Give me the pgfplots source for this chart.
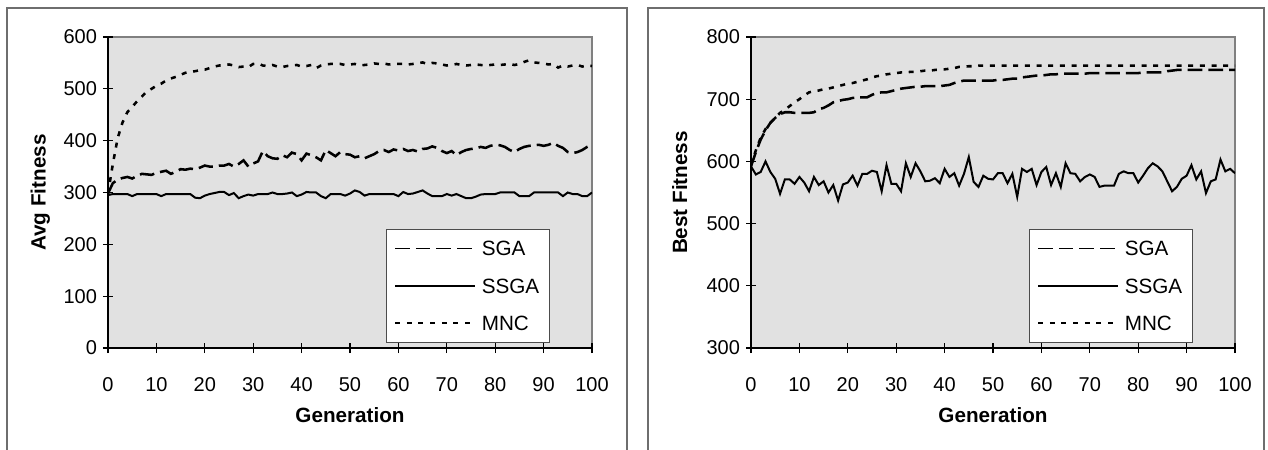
\documentclass[border=0pt]{standalone}
\usepackage{pgfplots}
\usepackage{pgfplotstable}
\usepackage{fontspec}
\setmainfont{Liberation Sans}
\pgfplotsset{compat=1.18}
\definecolor{plotbg}{RGB}{225,225,225}
\definecolor{bordergray}{RGB}{128,128,128}
\definecolor{framegray}{RGB}{110,110,110}

\pgfplotstableread{
gen sga ssga mnc
0 298 295 298
1 318 297 355
2 325 297 405
3 328 297 435
4 330 297 455
5 327 293 465
6 332 297 476
7 336 297 485
8 335 297 495
9 334 297 500
10 338 297 506
11 340 293 510
12 342 297 516
13 336 297 520
14 340 297 523
15 345 297 527
16 344 297 531
17 346 297 533
18 345 290 534
19 348 289 536
20 352 294 537
21 350 297 540
22 350 299 543
23 352 301 545
24 352 301 546
25 355 295 547
26 350 299 545
27 355 289 542
28 362 293 543
29 350 296 542
30 356 294 548
31 360 297 549
32 380 297 545
33 370 297 544
34 366 300 546
35 365 297 543
36 372 297 542
37 368 298 544
38 377 300 545
39 374 293 546
40 362 296 543
41 375 301 544
42 372 300 546
43 368 300 540
44 362 293 545
45 382 289 547
46 376 297 548
47 370 297 548
48 378 297 548
49 374 294 546
50 373 298 547
51 368 304 548
52 370 301 545
53 366 294 546
54 370 297 547
55 374 297 549
56 380 297 548
57 382 297 549
58 378 297 547
59 383 297 548
60 381 293 548
61 384 301 548
62 380 297 547
63 382 298 548
64 379 301 549
65 384 304 551
66 385 298 548
67 389 293 550
68 386 293 549
69 380 293 547
70 376 297 545
71 380 294 546
72 372 297 548
73 378 293 546
74 382 289 545
75 384 289 546
76 385 292 547
77 388 296 546
78 386 297 545
79 390 297 546
80 392 297 547
81 391 300 546
82 388 300 547
83 382 300 548
84 378 300 546
85 384 293 548
86 388 293 552
87 390 293 555
88 391 300 551
89 392 300 550
90 390 300 549
91 392 300 547
92 396 300 548
93 390 300 541
94 386 293 545
95 378 300 543
96 376 297 545
97 378 297 546
98 382 293 543
99 388 293 545
100 392 300 544
}\avgdata

\pgfplotstableread{
gen sga ssga mnc
0 592 592 594
1 615 579 618
2 635 583 638
3 650 600 652
4 662 583 662
5 670 572 670
6 676 548 678
7 679 571 683
8 679 571 689
9 678 564 695
10 678 575 700
11 678 566 706
12 678 552 711
13 679 575 713
14 684 562 714
15 686 568 716
16 690 550 717
17 695 562 719
18 697 537 721
19 699 563 723
20 700 566 725
21 702 577 726
22 703 561 728
23 703 580 730
24 703 580 732
25 707 585 735
26 710 583 737
27 711 552 738
28 711 594 740
29 713 564 741
30 715 564 742
31 717 552 743
32 718 597 743
33 719 575 744
34 720 597 744
35 720 584 745
36 721 568 746
37 721 569 746
38 721 573 747
39 721 565 748
40 722 588 748
41 723 575 749
42 726 581 750
43 728 561 752
44 730 580 752
45 730 607 753
46 730 567 753
47 730 559 754
48 730 577 754
49 730 572 754
50 730 571 754
51 731 581 754
52 731 581 754
53 732 565 754
54 733 580 754
55 733 543 754
56 735 588 754
57 736 583 754
58 737 588 754
59 738 562 754
60 738 583 754
61 739 591 754
62 740 562 754
63 740 581 754
64 741 559 754
65 741 597 754
66 741 581 754
67 741 580 754
68 741 568 754
69 741 575 754
70 742 579 754
71 742 575 754
72 742 559 754
73 742 561 754
74 742 561 754
75 742 561 754
76 742 580 754
77 742 584 754
78 742 581 754
79 742 581 754
80 742 566 754
81 743 577 754
82 743 589 754
83 743 597 754
84 743 592 754
85 743 584 754
86 745 568 754
87 746 552 754
88 747 559 754
89 747 572 754
90 747 577 754
91 747 594 754
92 747 571 754
93 747 584 754
94 747 549 754
95 747 568 754
96 747 571 754
97 747 603 754
98 747 584 754
99 747 588 754
100 747 581 754
}\bestdata

\pgfplotsset{
  excelstyle/.style={
    scale only axis,
    width=363pt, height=233.25pt,
    anchor=south west,
    xmin=0, xmax=100,
    xtick={0,10,...,100},
    axis x line*=bottom, axis y line*=left,
    axis line style={black, line width=1pt, -},
    axis background/.style={fill=plotbg, draw=bordergray, line width=1pt},
    tick align=center,
    major tick length=7.5pt,
    tick style={black, line width=0.9pt},
    tick label style={font=\fontsize{15}{18}\selectfont},
    /pgf/number format/assume math mode=true,
    x tick label style={anchor=center, yshift=-24pt},
    y tick label style={anchor=east, xshift=-1pt},
    label style={font=\fontsize{15.5}{18}\selectfont\bfseries},
    xlabel={Generation},
    xlabel style={at={(axis description cs:0.5,-0.215)}, anchor=center},
    ylabel style={anchor=center, rotate=0},
    legend style={
      at={(axis description cs:0.574,0.016)}, anchor=south west,
      draw=black!70, line width=0.8pt, fill=white,
      font=\fontsize{15.5}{18}\selectfont,
      inner xsep=6pt, inner ysep=7pt,
      row sep=13pt,
      nodes={inner sep=2pt, text height=11pt, text depth=0pt},
      /tikz/every odd column/.append style={column sep=2.5pt},
    },
    legend cell align=left,
    legend image code/.code={\draw[#1, line width=1.1pt] (0pt,0pt) -- (60pt,0pt);},
  },
  sgastyle/.style={black, line width=1.9pt, dash pattern=on 11pt off 4.5pt},
  ssgastyle/.style={black, line width=1.5pt, solid},
  mncstyle/.style={black, line width=1.9pt, dash pattern=on 3.75pt off 5pt},
}

\begin{document}
\begin{tikzpicture}
\begin{scope}[x=0.75pt, y=0.75pt]
\useasboundingbox (0,0) rectangle (1268,450);
\fill[white] (0,0) rectangle (1268,450);
\draw[framegray, line width=0.8pt] (7,-5) -- (7,442) -- (627,442) -- (627,-5);
\draw[framegray, line width=0.8pt] (648,-5) -- (648,442) -- (1264,442) -- (1264,-5);
\end{scope}

\begin{axis}[excelstyle, at={(81pt,76.5pt)},
  ymin=0, ymax=600, ytick={0,100,...,600},
  ylabel={Avg Fitness},
  ylabel style={at={(axis description cs:-0.14,0.5)}}]
\addplot[sgastyle] table[x=gen, y=sga] {\avgdata};
\addlegendentry{SGA}
\addplot[ssgastyle] table[x=gen, y=ssga] {\avgdata};
\addlegendentry{SSGA}
\addplot[mncstyle] table[x=gen, y=mnc] {\avgdata};
\addlegendentry{MNC}
\end{axis}

\begin{axis}[excelstyle, at={(563.25pt,76.5pt)},
  ymin=300, ymax=800, ytick={300,400,...,800},
  ylabel={Best Fitness},
  ylabel style={at={(axis description cs:-0.147,0.5)}}]
\addplot[sgastyle] table[x=gen, y=sga] {\bestdata};
\addlegendentry{SGA}
\addplot[ssgastyle] table[x=gen, y=ssga] {\bestdata};
\addlegendentry{SSGA}
\addplot[mncstyle] table[x=gen, y=mnc] {\bestdata};
\addlegendentry{MNC}
\end{axis}
\end{tikzpicture}
\end{document}
